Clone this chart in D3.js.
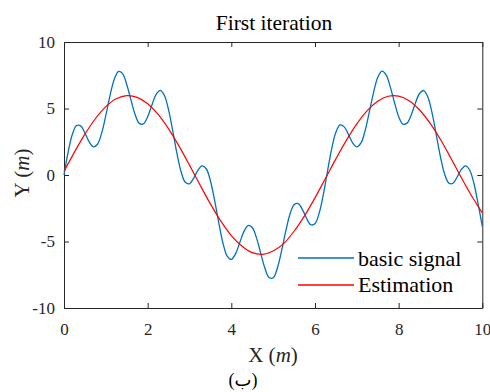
<!DOCTYPE html>
<html><head><meta charset="utf-8">
<script src="https://cdn.jsdelivr.net/npm/d3@7"></script>
<style>body{margin:0;background:#fff} svg{display:block}</style>
</head><body>
<svg id="c" width="490" height="392"></svg>
<script>
const signalX = [0,0.1,0.2,0.3,0.4,0.5,0.6,0.7,0.8,0.9,
1,1.1,1.2,1.3,1.4,1.5,1.6,1.7,1.8,1.9,
2,2.1,2.2,2.3,2.4,2.5,2.6,2.7,2.8,2.9,
3,3.1,3.2,3.3,3.4,3.5,3.6,3.7,3.8,3.9,
4,4.1,4.2,4.3,4.4,4.5,4.6,4.7,4.8,4.9,
5,5.1,5.2,5.3,5.4,5.5,5.6,5.7,5.8,5.9,
6,6.1,6.2,6.3,6.4,6.5,6.6,6.7,6.8,6.9,
7,7.1,7.2,7.3,7.4,7.5,7.6,7.7,7.8,7.9,
8,8.1,8.2,8.3,8.4,8.5,8.6,8.7,8.8,8.9,
9,9.1,9.2,9.3,9.4,9.5,9.6,9.7,9.8,9.9,10];
const signalY = [0,1.73,3.06,3.72,3.69,3.16,2.50,2.12,2.31,3.15,
4.49,5.97,7.18,7.78,7.62,6.81,5.65,4.55,3.88,3.84,
4.38,5.25,6.04,6.36,5.98,4.89,3.31,1.62,0.24,-0.55,
-0.66,-0.24,0.34,0.68,0.47,-0.43,-1.89,-3.59,-5.12,-6.10,
-6.35,-5.93,-5.10,-4.26,-3.80,-3.95,-4.71,-5.85,-6.98,-7.70,
-7.73,-7.01,-5.73,-4.24,-2.97,-2.23,-2.15,-2.60,-3.27,-3.74,
-3.66,-2.87,-1.46,0.30,1.99,3.22,3.76,3.62,3.05,2.41,
2.11,2.41,3.35,4.74,6.20,7.33,7.81,7.53,6.63,5.45,
4.40,3.83,3.90,4.51,5.40,6.13,6.35,5.85,4.65,3.02,
1.36,0.06,-0.61,-0.62,-0.15,0.42,0.69,0.36,-0.64,-2.17,-3.87];
const estX = [0,0.25,0.5,0.75,1,1.25,1.5,1.75,2,2.25,2.5,2.75,3,3.25,3.5,3.75,4,4.25,4.5,4.75,
5,5.25,5.5,5.75,6,6.25,6.5,6.75,7,7.25,7.5,7.75,8,8.25,8.5,8.75,9,9.25,9.5,9.75,10];
const estY = [0.27,1.72,3.07,4.23,5.14,5.73,5.97,5.84,5.36,4.55,3.47,2.17,0.74,-0.74,-2.17,-3.47,-4.55,-5.34,-5.84,-5.97,
-5.72,-5.16,-4.23,-3.07,-1.72,-0.26,1.21,2.60,3.84,4.84,5.55,5.92,5.93,5.59,4.89,3.90,2.67,1.26,-0.21,-1.60,-2.85];
const xTicks = [0,2,4,6,8,10];
const yTicks = [-10,-5,0,5,10];
const seriesNames = ["basic signal","Estimation"];
const seriesColors = ["#0072BD","#FF0000"];

const FONT = "'Liberation Serif','Times New Roman',serif";
const INK = "#262626";
const svg = d3.select("#c");
const L = 64, R = 482.3, T = 42, B = 308;
const x = d3.scaleLinear().domain([0,10]).range([L,R]);
const y = d3.scaleLinear().domain([-10,10]).range([B,T]);

function styleAxis(g, showText){
  g.selectAll("path.domain").attr("stroke",INK).attr("stroke-width",1);
  g.selectAll(".tick line").attr("stroke",INK).attr("stroke-width",1);
  g.selectAll(".tick text").attr("fill",INK).style("font-family",FONT).style("font-size","17px");
  if(!showText) g.selectAll(".tick text").remove();
}
svg.append("g").attr("transform",`translate(0,${B})`)
  .call(d3.axisBottom(x).tickValues(xTicks).tickFormat(d=>String(d)).tickSizeInner(-5).tickSizeOuter(0).tickPadding(15))
  .call(g=>styleAxis(g,true));
svg.append("g").attr("transform",`translate(0,${T})`)
  .call(d3.axisTop(x).tickValues(xTicks).tickSizeInner(-5).tickSizeOuter(0))
  .call(g=>styleAxis(g,false));
svg.append("g").attr("transform",`translate(${L},0)`)
  .call(d3.axisLeft(y).tickValues(yTicks).tickFormat(d=>String(d)).tickSizeInner(-5).tickSizeOuter(0).tickPadding(9))
  .call(g=>styleAxis(g,true));
svg.append("g").attr("transform",`translate(${R},0)`)
  .call(d3.axisRight(y).tickValues(yTicks).tickSizeInner(-5).tickSizeOuter(0))
  .call(g=>styleAxis(g,false));

const line = d3.line().x(d=>x(d[0])).y(d=>y(d[1])).curve(d3.curveCatmullRom.alpha(0.5));
const sig = signalX.map((v,i)=>[v,signalY[i]]);
const est = estX.map((v,i)=>[v,estY[i]]);
svg.append("path").datum(sig).attr("d",line).attr("fill","none").attr("stroke",seriesColors[0]).attr("stroke-width",1.3);
svg.append("path").datum(est).attr("d",line).attr("fill","none").attr("stroke",seriesColors[1]).attr("stroke-width",1.2);

// title and labels
svg.append("text").attr("x",274).attr("y",30).attr("text-anchor","middle")
  .attr("fill","#000").style("font-family",FONT).style("font-size","21.5px").text("First iteration");
const xl = svg.append("text").attr("x",273).attr("y",362).attr("text-anchor","middle")
  .attr("fill",INK).style("font-family",FONT).style("font-size","21px");
xl.append("tspan").text("X (");
xl.append("tspan").style("font-style","italic").text("m");
xl.append("tspan").text(")");
const yl = svg.append("text").attr("transform","translate(29,173) rotate(-90)").attr("text-anchor","middle")
  .attr("fill",INK).style("font-family",FONT).style("font-size","21px");
yl.append("tspan").text("Y (");
yl.append("tspan").style("font-style","italic").text("m");
yl.append("tspan").text(")");

svg.append("text").attr("x",243).attr("y",386).attr("text-anchor","middle")
  .attr("fill","#000").style("font-family","'Liberation Serif','DejaVu Sans',serif").style("font-size","18px").text("(ب)");

// legend
const legY = [258, 285];
const legBase = [266, 292];
seriesNames.forEach((n,i)=>{
  svg.append("line").attr("x1",298).attr("x2",354).attr("y1",legY[i]).attr("y2",legY[i])
    .attr("stroke",seriesColors[i]).attr("stroke-width",1.3);
  svg.append("text").attr("x",358).attr("y",legBase[i]).attr("fill","#000")
    .style("font-family",FONT).style("font-size","22px").text(n);
});
</script>
</body></html>
